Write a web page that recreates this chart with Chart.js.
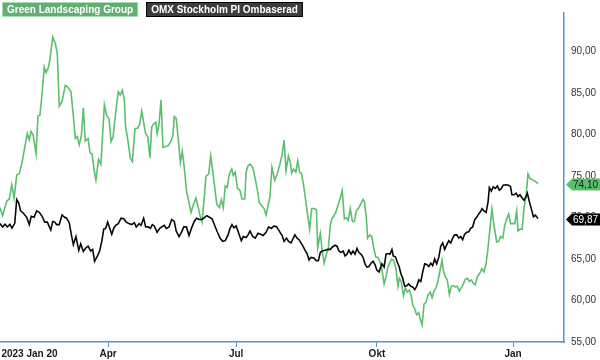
<!DOCTYPE html>
<html>
<head>
<meta charset="utf-8">
<script src="https://cdn.jsdelivr.net/npm/chart.js@4.4.0/dist/chart.umd.min.js"></script>
<style>
  body { margin: 0; background: #fff; }
  #wrap { width: 600px; height: 360px; }
</style>
</head>
<body>
<div id="wrap"><canvas id="graph1" width="600" height="360"></canvas></div>
<script>
// x = trading day counted from 2023-01-20
const greenDays = [0,1.2,3.1,4.3,5.4,6.5,7.7,8.9,10.0,11.1,
  12.6,13.5,14.3,15.3,16.6,17.5,18.4,19.4,20.4,21.2,
  22.3,23.0,24.3,25.5,26.4,27.3,28.6,30.1,31.2,32.7,
  33.8,34.7,35.6,36.5,37.5,38.4,39.3,40.6,41.5,42.4,
  43.3,44.2,45.4,46.5,48.1,49.2,50.2,51.2,52.1,53.3,
  54.5,55.4,56.4,57.3,57.9,58.8,60.0,61.0,62.2,63.5,
  64.4,65.3,66.2,67.1,68.1,69.1,69.9,70.8,71.8,72.4,
  73.3,74.2,75.1,76.4,77.6,78.8,79.7,80.3,81.2,82.2,
  83.1,84.0,84.9,86.0,87.1,88.0,88.9,90.3,91.2,92.2,
  93.1,94.3,94.9,96.2,97.1,98.0,98.9,99.9,101.1,102.0,
  102.9,103.8,104.7,105.7,106.8,107.5,108.4,109.4,110.6,111.5,
  112.8,113.4,114.3,115.2,116.5,117.6,118.6,119.5,120.7,121.7,
  122.6,123.5,124.4,125.3,126.6,127.8,129.0,130.0,130.9,131.8,
  132.9,133.8,134.4,135.3,136.3,137.2,138.1,139.0,140.0,140.9,
  141.8,142.7,143.6,144.8,145.8,146.4,147.6,148.5,149.4,150.4,
  151.3,152.2,152.9,153.8,154.7,155.9,156.8,157.7,158.7,159.6,
  160.5,161.4,162.4,163.3,164.2,165.1,166.4,167.3,167.9,168.8,
  169.4,170.4,171.3,172.2,173.1,174.1,175.0,
  176.0,177.0,177.9,178.8,179.7,180.6,181.6,182.5,183.4,184.0,
  184.9,185.9,186.8,187.7,188.6,189.5,190.2,191.1,192.0,193.0,
  193.5,194.5,195.4,196.3,197.2,198.2,199.1,200.0,200.9,201.8,
  202.8,203.7,204.3,205.2,206.1,207.1,208.0,208.9,209.8,210.7,
  211.7,212.6,213.5,214.4,215.4,216.3,217.2,218.1,219.0,220.0,
  221.2,222.1,223.0,224.0,224.9,225.8,226.7,227.6,228.9,229.8,
  230.7,231.7,232.6,233.5,234.4,235.3,236.3,237.2,238.1,238.7,
  239.6,240.6,241.5,242.4,243.3,244.2,245.2,246.4,247.9];
const greenClose = [71.20,70.23,71.98,72.24,73.95,72.36,75.12,75.27,76.43,78.02,
  80.12,79.34,80.38,79.92,77.67,82.24,82.33,84.97,88.14,87.48,
  88.06,89.03,91.74,90.97,89.80,83.41,83.99,85.93,85.73,85.15,
  82.24,79.53,79.73,78.76,79.85,83.22,79.22,79.53,77.79,77.67,
  75.85,74.50,77.01,76.43,83.60,82.24,81.94,79.15,79.73,82.64,
  85.15,84.77,85.35,84.19,80.90,79.53,77.21,76.74,80.70,80.78,
  81.28,82.83,81.48,80.12,79.73,77.21,80.90,81.28,81.48,80.12,
  81.28,84.19,78.45,78.57,78.69,79.22,79.92,82.17,81.94,79.34,
  76.63,77.99,76.05,73.14,71.78,70.62,71.40,72.36,71.40,70.23,
  69.45,72.94,74.97,75.27,77.41,75.66,73.72,71.59,71.20,72.17,
  71.20,73.80,73.64,75.27,75.85,75.08,75.47,73.52,73.26,72.24,
  72.24,75.47,76.24,76.43,76.05,74.69,73.34,71.78,71.40,71.08,
  70.31,71.40,72.56,76.05,74.50,75.27,76.43,77.59,79.34,75.66,
  77.41,76.63,75.35,75.85,75.47,76.83,75.47,75.27,73.72,71.98,
  70.23,68.60,71.08,71.08,70.93,66.36,68.10,65.97,64.50,65.58,
  66.28,69.07,69.85,70.15,70.62,71.59,72.36,73.26,69.85,69.97,
  69.65,71.08,69.53,69.53,70.81,71.08,71.71,72.17,71.98,70.03,
  67.52,67.91,67.71,66.36,65.27,65.20,64.73,
  63.72,62.01,62.87,64.03,64.62,65.00,64.73,63.72,61.71,62.67,
  62.29,60.62,61.51,61.01,61.24,60.55,59.45,58.99,58.29,58.52,
  57.91,57.06,59.57,59.77,60.62,61.01,60.35,61.13,61.51,62.29,
  63.64,64.88,63.64,62.87,62.48,60.73,61.71,61.78,61.63,61.71,
  61.13,61.51,62.01,62.56,62.67,62.29,62.48,62.09,61.90,62.87,
  63.34,63.84,63.45,64.42,66.36,68.69,71.01,69.07,67.06,67.13,
  67.71,67.52,69.07,69.85,70.43,69.27,69.27,69.27,70.81,68.37,
  68.60,68.60,71.20,72.56,75.27,74.69,74.57,74.42,74.10];

const omxDays = [0,1.2,2.3,3.4,4.6,5.5,6.8,7.7,8.6,9.5,
  10.7,12.3,13.5,14.4,15.7,16.9,18.1,19.4,20.6,21.8,
  23.4,24.3,25.2,26.1,27.3,28.6,29.8,30.7,31.9,32.9,
  33.8,35.0,36.3,37.2,38.4,39.6,40.6,41.8,42.7,43.6,
  44.9,45.9,46.9,47.8,48.7,49.6,50.6,51.5,52.4,53.3,
  54.5,55.8,57.0,58.2,59.4,60.7,61.9,62.8,64.1,65.0,
  66.2,67.1,68.3,69.3,70.2,71.1,72.4,73.6,74.5,75.7,
  76.6,77.9,79.1,80.3,81.2,82.5,83.4,84.7,85.9,87.1,
  88.3,89.5,90.6,91.8,93.1,94.3,95.3,96.5,97.7,98.9,
  100.1,101.4,102.6,103.8,105.1,106.0,106.9,107.8,108.8,110.0,
  111.2,112.1,113.4,114.3,115.2,116.5,117.6,118.9,120.1,121.3,
  122.6,123.8,125.0,126.3,127.5,128.7,130.0,130.9,132.0,133.0,
  134.1,135.0,135.9,136.9,137.8,138.7,139.6,140.6,141.5,142.4,
  143.3,144.6,145.8,146.7,147.6,148.5,149.8,151.0,152.2,153.1,
  154.4,155.3,156.2,157.1,158.1,159.0,159.9,160.8,161.8,162.7,
  163.6,164.5,165.4,166.4,167.3,168.2,169.1,170.0,171.0,171.9,
  172.8,173.7,174.7,176.0,177.0,177.9,178.8,179.7,180.6,181.2,
  182.2,183.1,184.0,184.7,185.6,186.5,187.4,188.3,189.3,190.2,
  191.1,192.0,193.0,193.9,194.8,195.7,196.6,197.6,198.5,199.4,
  200.3,201.2,202.2,203.1,204.0,204.9,205.9,206.8,207.7,208.6,
  209.5,210.5,211.4,212.3,213.2,214.1,215.1,216.0,216.9,217.8,
  218.8,219.7,220.6,221.4,222.1,223.0,224.0,224.9,
  225.5,226.4,227.3,228.2,229.2,230.1,231.0,231.9,233.2,234.4,235.3,
  235.9,236.9,237.8,238.7,239.6,240.6,241.5,242.4,243.0,243.9,244.8,245.8,246.7,247.9];
const omxClose = [69.27,68.87,69.19,68.87,69.19,68.72,69.30,72.17,71.78,70.81,
  70.55,70.03,69.15,70.15,70.03,70.81,70.62,70.15,69.45,69.45,
  68.49,69.53,69.45,69.15,69.15,70.31,70.03,69.92,69.38,67.91,
  66.74,67.71,66.05,66.83,65.90,66.36,66.55,65.97,66.16,64.73,
  65.38,65.97,67.13,68.60,68.69,69.45,68.69,67.99,68.69,69.07,
  69.27,69.92,69.85,69.45,69.27,69.15,69.38,68.87,69.27,69.07,
  69.92,68.87,68.87,68.69,69.15,68.99,68.22,68.69,68.87,69.07,
  68.69,68.87,69.77,69.53,68.37,67.71,68.10,68.87,68.87,67.83,
  68.76,69.53,69.92,69.77,69.77,70.03,70.23,70.03,69.85,69.07,
  68.29,67.52,67.13,67.21,67.91,68.69,69.15,68.76,68.99,68.10,
  67.21,67.71,67.59,67.91,68.37,67.71,67.52,68.10,67.99,67.83,
  68.22,68.87,68.69,68.99,68.87,68.37,67.83,67.13,67.52,67.13,
  66.94,67.44,67.91,67.52,67.33,66.94,66.55,66.05,65.66,64.88,
  65.20,65.12,64.80,64.80,65.78,65.97,66.05,66.16,66.16,66.43,
  66.66,66.55,65.97,65.78,65.97,65.38,65.58,66.05,65.58,65.97,
  65.58,66.28,65.78,65.58,65.20,64.42,64.03,64.10,64.50,64.73,
  64.34,63.64,63.45,64.42,64.03,65.58,65.66,65.58,66.16,65.38,
  65.27,64.62,64.03,63.26,62.67,61.71,61.78,62.01,61.71,61.63,
  61.31,61.71,62.48,62.29,63.45,64.42,64.34,64.10,64.50,64.22,
  65.00,64.42,65.20,66.55,66.94,66.16,66.74,67.21,66.94,67.52,
  67.91,67.91,67.52,67.71,67.33,67.99,68.22,68.29,68.69,68.87,
  69.77,70.03,70.43,70.70,71.08,70.81,70.62,71.86,
  73.60,73.20,73.70,73.50,73.80,73.30,73.50,73.90,73.95,73.90,73.70,
  72.74,72.74,72.94,72.54,72.74,72.36,72.08,72.54,72.94,71.96,71.10,70.10,70.30,69.87];

const seriesNames = ['Green Landscaping Group', 'OMX Stockholm PI Ombaserad'];
const tickDays = [13.6, 49.8, 108.8, 173.7, 236.4];
const tickLabels = ['2023 Jan 20', 'Apr', 'Jul', 'Okt', 'Jan'];
const priceTicks = [55, 60, 65, 70, 75, 80, 85, 90];

const GREEN = '#5cbf6e';
const AXIS = '#5b93bf';
const FONT = '"Liberation Sans", Arial, sans-serif';
const fmt = v => v.toFixed(2).replace('.', ',');

const toPoints = (xs, ys) => xs.map((x, i) => ({ x: x, y: ys[i] }));

// legend boxes top left
const legendBoxes = {
  id: 'legendBoxes',
  afterDraw(chart) {
    const c = chart.ctx;
    c.save();
    c.font = 'bold 10px ' + FONT;
    c.textBaseline = 'middle';
    let x = 2;
    seriesNames.forEach((name, i) => {
      const w = c.measureText(name).width + 10;
      if (i === 0) {
        c.fillStyle = '#64ad75';
        c.fillRect(x, 2, w, 15);
        c.strokeStyle = '#a9dcb4';
      } else {
        c.fillStyle = '#3d3d3d';
        c.fillRect(x, 2, w, 15);
        c.strokeStyle = '#000';
      }
      c.lineWidth = 1;
      c.strokeRect(x + 0.5, 2.5, w - 1, 14);
      c.fillStyle = '#fff';
      c.fillText(name, x + 5, 10);
      x += w + 8;
    });
    c.restore();
  }
};

// last value tags on the right axis
const endTags = {
  id: 'endTags',
  afterDraw(chart) {
    const c = chart.ctx;
    const ys = chart.scales.y;
    const left = chart.chartArea.right + 2;
    const tags = [
      { v: greenClose[greenClose.length - 1], bg: GREEN, fg: '#1a1a1a' },
      { v: omxClose[omxClose.length - 1], bg: '#000', fg: '#fff' }
    ];
    c.save();
    c.font = '10px ' + FONT;
    c.textBaseline = 'middle';
    tags.forEach(t => {
      const y = Math.round(ys.getPixelForValue(t.v)) + 0.5;
      c.beginPath();
      c.moveTo(left, y);
      c.lineTo(left + 6, y - 6);
      c.lineTo(600, y - 6);
      c.lineTo(600, y + 6);
      c.lineTo(left + 6, y + 6);
      c.closePath();
      c.fillStyle = t.bg;
      c.fill();
      c.fillStyle = t.fg;
      c.fillText(fmt(t.v), left + 7, y + 0.5);
    });
    c.restore();
  }
};

new Chart(document.querySelector('#graph1'), {
  type: 'line',
  data: {
    datasets: [
      {
        label: seriesNames[0],
        data: toPoints(greenDays, greenClose),
        borderColor: GREEN,
        borderWidth: 1.6,
        pointRadius: 0,
        tension: 0,
        order: 2
      },
      {
        label: seriesNames[1],
        data: toPoints(omxDays, omxClose),
        borderColor: '#080808',
        borderWidth: 1.6,
        pointRadius: 0,
        tension: 0,
        order: 1
      }
    ]
  },
  options: {
    responsive: false,
    animation: false,
    layout: { padding: 0 },
    plugins: {
      legend: { display: false },
      tooltip: { enabled: false }
    },
    scales: {
      x: {
        type: 'linear',
        min: 0,
        max: 259.9,
        afterBuildTicks: s => { s.ticks = tickDays.map(v => ({ value: v })); },
        afterFit: s => { s.height = 18; },
        ticks: {
          autoSkip: false,
          maxRotation: 0,
          padding: 1,
          color: '#1a1a1a',
          font: { family: FONT, size: 10, weight: 'bold' },
          callback: (v, i) => tickLabels[i]
        },
        grid: {
          drawOnChartArea: false,
          tickLength: 5,
          tickColor: ctx => ctx.index === 0 ? 'rgba(0,0,0,0)' : AXIS
        },
        border: { color: AXIS, width: 1.5 }
      },
      y: {
        position: 'right',
        min: 55,
        max: 94.65,
        afterBuildTicks: s => { s.ticks = priceTicks.map(v => ({ value: v })); },
        afterFit: s => { s.width = 36; },
        ticks: {
          padding: 7,
          color: '#333',
          font: { family: FONT, size: 10 },
          callback: v => fmt(v)
        },
        grid: { display: false, drawTicks: false },
        border: { color: AXIS, width: 1.5 }
      }
    }
  },
  plugins: [legendBoxes, endTags]
});
</script>
</body>
</html>
